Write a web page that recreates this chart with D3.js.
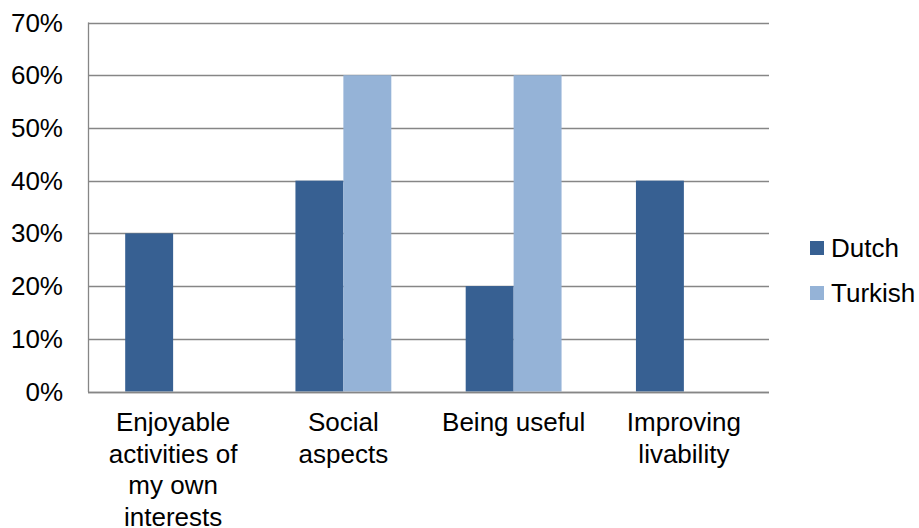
<!DOCTYPE html>
<html>
<head>
<meta charset="utf-8">
<script src="https://cdn.jsdelivr.net/npm/d3@7"></script>
<style>
  html, body { margin: 0; padding: 0; background: #fff; }
  svg text { font-family: "Liberation Sans", Arial, sans-serif; fill: #000; }
</style>
</head>
<body>
<svg id="chart" width="919" height="528"></svg>
<script>
// Motivations by group (share of respondents)
const categories = [
  ["Enjoyable", "activities of", "my own", "interests"],
  ["Social", "aspects"],
  ["Being useful"],
  ["Improving", "livability"]
];
const seriesNames = ["Dutch", "Turkish"];
const dutch = [0.30, 0.40, 0.20, 0.40];
const turkish = [0.00, 0.60, 0.60, 0.00];
const yTicks = [0, 0.1, 0.2, 0.3, 0.4, 0.5, 0.6, 0.7];
const colors = ["#376092", "#95B3D7"];

const svg = d3.select("#chart");
const plot = { left: 88, right: 769, top: 22.5, bottom: 391.5 };
const fontSize = 26;

const catKeys = categories.map((c, i) => i);
const x0 = d3.scaleBand().domain(catKeys).range([plot.left, plot.right]);
const x1 = d3.scaleBand().domain(seriesNames)
  .range([0, x0.bandwidth()]).paddingInner(0).paddingOuter(0.776);
const y = d3.scaleLinear().domain([0, 0.7]).range([plot.bottom, plot.top]);

// Horizontal gridlines
svg.append("g")
  .selectAll("line")
  .data(yTicks)
  .join("line")
  .attr("x1", plot.left).attr("x2", plot.right)
  .attr("y1", d => Math.round(y(d)) + 0.5).attr("y2", d => Math.round(y(d)) + 0.5)
  .attr("stroke", "#868686").attr("stroke-width", 1.3);

// Bars
const rows = catKeys.map(i => ({ i, values: [dutch[i], turkish[i]] }));
svg.append("g")
  .selectAll("g")
  .data(rows)
  .join("g")
  .attr("transform", d => `translate(${x0(d.i)},0)`)
  .selectAll("rect")
  .data(d => d.values.map((v, k) => ({ key: seriesNames[k], v, k })))
  .join("rect")
  .attr("x", d => x1(d.key))
  .attr("width", x1.bandwidth())
  .attr("y", d => y(d.v))
  .attr("height", d => y(0) - y(d.v))
  .attr("fill", d => colors[d.k]);

// Vertical axis line and baseline
svg.append("line")
  .attr("x1", plot.left + 0.5).attr("x2", plot.left + 0.5)
  .attr("y1", plot.top).attr("y2", plot.bottom + 0.5)
  .attr("stroke", "#868686").attr("stroke-width", 1.3);
svg.append("line")
  .attr("x1", plot.left).attr("x2", plot.right)
  .attr("y1", Math.round(y(0)) + 0.5).attr("y2", Math.round(y(0)) + 0.5)
  .attr("stroke", "#868686").attr("stroke-width", 1.5);

// Y tick labels
svg.append("g")
  .selectAll("text")
  .data(yTicks)
  .join("text")
  .attr("x", 63)
  .attr("y", d => y(d))
  .attr("dy", "0.35em")
  .attr("text-anchor", "end")
  .attr("font-size", fontSize)
  .text(d => d3.format(".0%")(d));

// Category labels (multi-line)
const catLabels = svg.append("g")
  .selectAll("text")
  .data(rows)
  .join("text")
  .attr("text-anchor", "middle")
  .attr("font-size", fontSize)
  .attr("x", d => x0(d.i) + x0.bandwidth() / 2)
  .attr("y", 431);
catLabels.selectAll("tspan")
  .data(d => categories[d.i])
  .join("tspan")
  .attr("x", function() { return d3.select(this.parentNode).attr("x"); })
  .attr("dy", (d, k) => k === 0 ? 0 : 31.5)
  .text(d => d);

// Legend
const legend = svg.append("g")
  .selectAll("g")
  .data(seriesNames)
  .join("g")
  .attr("transform", (d, k) => `translate(810,${241 + k * 45})`);
legend.append("rect")
  .attr("width", 14).attr("height", 14)
  .attr("fill", (d, k) => colors[k]);
legend.append("text")
  .attr("x", 21).attr("y", 7)
  .attr("dy", "0.35em")
  .attr("font-size", fontSize)
  .text(d => d);
</script>
</body>
</html>
